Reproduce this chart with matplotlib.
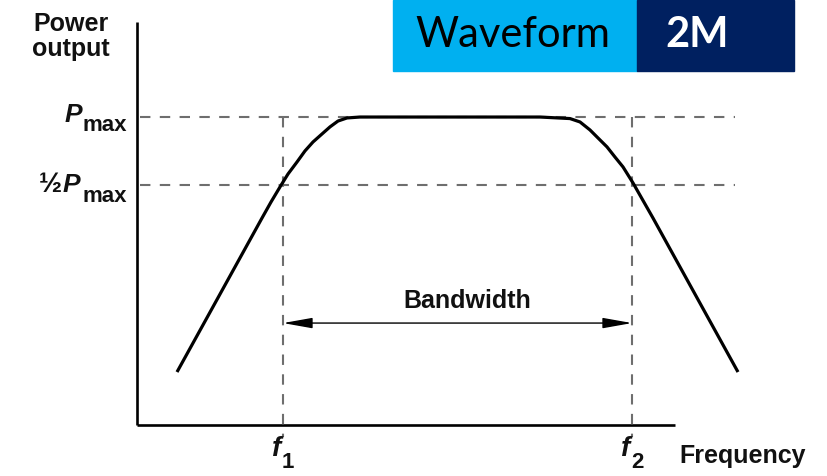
import matplotlib
matplotlib.use("Agg")
import matplotlib.pyplot as plt
from matplotlib.patches import Rectangle

# response curve, power relative to Pmax (schematic units)
freq = [0.40, 1.25, 1.34, 1.43, 1.51, 1.60, 1.68, 1.76, 1.85, 1.93, 2.01, 2.10, 2.23,
        4.03, 4.33, 4.43, 4.53, 4.61, 4.70, 4.78, 4.86, 4.91, 4.96, 5.16, 6.01]
power = [0.172, 0.672, 0.724, 0.773, 0.815, 0.854, 0.890, 0.919, 0.945, 0.968, 0.987, 0.997, 1.0,
         1.0, 0.995, 0.984, 0.958, 0.932, 0.903, 0.870, 0.838, 0.812, 0.786, 0.672, 0.172]
p_max = 1.0
p_half = 0.779
f1, f2 = 1.46, 4.95
bw_level = 0.331

fig = plt.figure(figsize=(8.28, 4.76), dpi=100)
ax = fig.add_axes([0, 0, 1, 1])
ax.set_xlim(-1.37, 6.91)
ax.set_ylim(-0.1656, 1.380)
ax.axis("off")

# axes of the sketch
ax.plot([0, 0], [0, 1.308], color="black", lw=1.9, solid_capstyle="butt")
ax.plot([0, 5.38], [0, 0], color="black", lw=1.9, solid_capstyle="butt")

# dashed guides
dash = dict(color="#6e6e6e", lw=1.5, ls=(0, (5, 4.5)))
ax.plot([0.03, 5.98], [p_max, p_max], **dash)
ax.plot([0.03, 5.98], [p_half, p_half], **dash)
ax.plot([f1, f1], [p_max, -0.04], **dash)
ax.plot([f2, f2], [p_max, -0.04], **dash)

ax.plot(freq, power, color="black", lw=2.3, solid_capstyle="butt")

# bandwidth arrow
ax.annotate("", xy=(f2, bw_level), xytext=(f1, bw_level),
            arrowprops=dict(arrowstyle="<|-|>,head_length=1.8,head_width=0.32",
                            color="black", lw=1.0, shrinkA=0, shrinkB=0))
lab = dict(fontweight="bold", family="Liberation Sans", color="#111111")
ax.text(3.30, 0.380, "Bandwidth", ha="center", va="baseline", fontsize=18, **lab)

ax.text(-0.66, 1.26, "Power\noutput", ha="center", va="center", fontsize=18,
        linespacing=1.05, **lab)

ax.text(-0.55, 0.984, "P", ha="right", va="baseline", fontsize=19, style="italic", **lab)
ax.text(-0.10, 0.955, "max", ha="right", va="baseline", fontsize=16, **lab)
ax.text(-0.57, 0.756, "P", ha="right", va="baseline", fontsize=19, style="italic", **lab)
ax.text(-0.75, 0.756, "\u00bd", ha="right", va="baseline", fontsize=20, **lab)
ax.text(-0.10, 0.724, "max", ha="right", va="baseline", fontsize=16, **lab)

ax.text(f1 - 0.02, -0.100, "f", ha="right", va="baseline", fontsize=20, style="italic", **lab)
ax.text(f1 - 0.01, -0.140, "1", ha="left", va="baseline", fontsize=16, **lab)
ax.text(f2 - 0.02, -0.100, "f", ha="right", va="baseline", fontsize=20, style="italic", **lab)
ax.text(f2 - 0.01, -0.140, "2", ha="left", va="baseline", fontsize=16, **lab)
ax.text(5.42, -0.123, "Frequency", ha="left", va="baseline", fontsize=18, **lab)

# title banner
fig.patches.append(Rectangle((393 / 828, 1 - 71 / 476), 244 / 828, 71 / 476,
                             transform=fig.transFigure, color="#00B0F0", zorder=0))
fig.patches.append(Rectangle((637 / 828, 1 - 71 / 476), 157 / 828, 71 / 476,
                             transform=fig.transFigure, color="#002060", zorder=0))
fig.text(513 / 828, 1 - 47 / 476, "Waveform", ha="center", va="baseline",
         fontsize=30, family="Lato", color="black")
fig.text(697 / 828, 1 - 47 / 476, "2M", ha="center", va="baseline",
         fontsize=30, family="Lato", fontweight="bold", color="white")

fig.savefig("out.png", dpi=100)
